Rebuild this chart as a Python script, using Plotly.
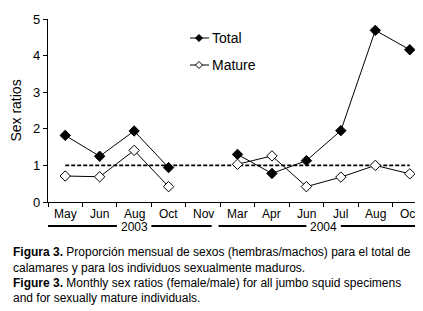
import plotly.graph_objects as go

months = ["May", "Jun", "Aug", "Oct", "Nov", "Mar", "Apr", "Jun", "Jul", "Aug", "Oct"]
years = ["2003", "2004"]
year_groups = [(0, 4), (5, 10)]  # index range of months in each year
total = [1.82, 1.25, 1.94, 0.94, None, 1.30, 0.78, 1.13, 1.95, 4.69, 4.16]
mature = [0.71, 0.69, 1.41, 0.42, None, 1.03, 1.26, 0.42, 0.68, 1.00, 0.77]
reference_ratio = 1.0
y_ticks = [0, 1, 2, 3, 4, 5]
series_names = ["Total", "Mature"]

FONT = "Liberation Sans, Arial, sans-serif"
W, H = 423, 311
L, R, T, B = 40, 4, 11, 117
PW, PH = W - L - R, H - T - B


def px(x):
    return (x - L) / PW


def py(y):
    return (H - B - y) / PH


xs = list(range(len(months)))

fig = go.Figure()
fig.add_trace(go.Scatter(x=[xs[0], xs[-1]], y=[reference_ratio, reference_ratio], mode="lines",
                         line=dict(color="black", width=1.8, dash="4px,2px"), showlegend=False,
                         hoverinfo="skip"))
fig.add_trace(go.Scatter(x=xs, y=total, mode="lines+markers", name=series_names[0],
                         line=dict(color="black", width=1),
                         marker=dict(symbol="diamond", size=8, color="black",
                                     line=dict(color="black", width=1))))
fig.add_trace(go.Scatter(x=xs, y=mature, mode="lines+markers", name=series_names[1],
                         line=dict(color="black", width=1),
                         marker=dict(symbol="diamond", size=8, color="white",
                                     line=dict(color="black", width=1))))

fig.update_xaxes(range=[-0.5, len(months) - 0.5], tickvals=xs, ticktext=[""] * len(xs), ticks="",
                 showline=True, linecolor="black", linewidth=1.2, showgrid=False, zeroline=False,
                 minor=dict(tick0=-0.5, dtick=1, ticks="outside", ticklen=4, tickcolor="black",
                            showgrid=False))
fig.update_yaxes(range=[0, 5], tickvals=y_ticks, ticks="outside", ticklen=4, tickcolor="black",
                 showline=True, linecolor="black", linewidth=1.2, showgrid=False, zeroline=False,
                 tickfont=dict(family=FONT, size=13, color="black"),
                 title=dict(text="Sex ratios", font=dict(family=FONT, size=14, color="black"),
                            standoff=8))

# month labels
for i, m in enumerate(months):
    fig.add_annotation(x=i, y=py(206), xref="x", yref="paper", text=m, showarrow=False,
                       yanchor="middle", font=dict(family=FONT, size=12, color="black"))

# year brackets
for (i0, i1), yr in zip(year_groups, years):
    a, b = i0 - 0.55, i1 + 0.25
    mid = (i0 + i1) / 2
    half = 0.5
    for x0, x1 in [(a, mid - half), (mid + half, b)]:
        fig.add_shape(type="line", xref="x", yref="paper", x0=x0, x1=x1, y0=py(218), y1=py(218),
                      line=dict(color="black", width=2))
    fig.add_annotation(x=mid, y=py(219), xref="x", yref="paper", text=yr, showarrow=False,
                       font=dict(family=FONT, size=12, color="black"), yanchor="middle")

# legend (manual)
def diamond(cx, cy, r, fill):
    path = (f"M {px(cx - r)} {py(cy)} L {px(cx)} {py(cy - r)} L {px(cx + r)} {py(cy)} "
            f"L {px(cx)} {py(cy + r)} Z")
    fig.add_shape(type="path", xref="paper", yref="paper", path=path, fillcolor=fill,
                  line=dict(color="black", width=1))


for name, ly, fill in [(series_names[0], 30, "black"), (series_names[1], 57, "white")]:
    fig.add_shape(type="line", xref="paper", yref="paper", x0=px(182), x1=px(201), y0=py(ly), y1=py(ly),
                  line=dict(color="black", width=1))
    diamond(191, ly, 3.5, fill)
    fig.add_annotation(x=px(202), y=py(ly), xref="paper", yref="paper", text=name, showarrow=False,
                       xanchor="left", yanchor="middle",
                       font=dict(family=FONT, size=14, color="black"))

caption = [
    ("<b>Figura 3.</b> Proporción mensual de sexos (hembras/machos) para el total de", 244),
    ("calamares y para los individuos sexualmente maduros.", 260),
    ("<b>Figure 3.</b> Monthly sex ratios (female/male) for all jumbo squid specimens", 275),
    ("and for sexually mature individuals.", 290),
]
for txt, yy in caption:
    fig.add_annotation(x=px(3), y=py(yy), xref="paper", yref="paper", text=txt, showarrow=False,
                       xanchor="left", yanchor="middle",
                       font=dict(family=FONT, size=12, color="black"))

fig.update_layout(
    width=W, height=H, margin=dict(l=L, r=R, t=T, b=B),
    paper_bgcolor="white", plot_bgcolor="white",
    showlegend=False,
)

fig.write_html("out.html")
